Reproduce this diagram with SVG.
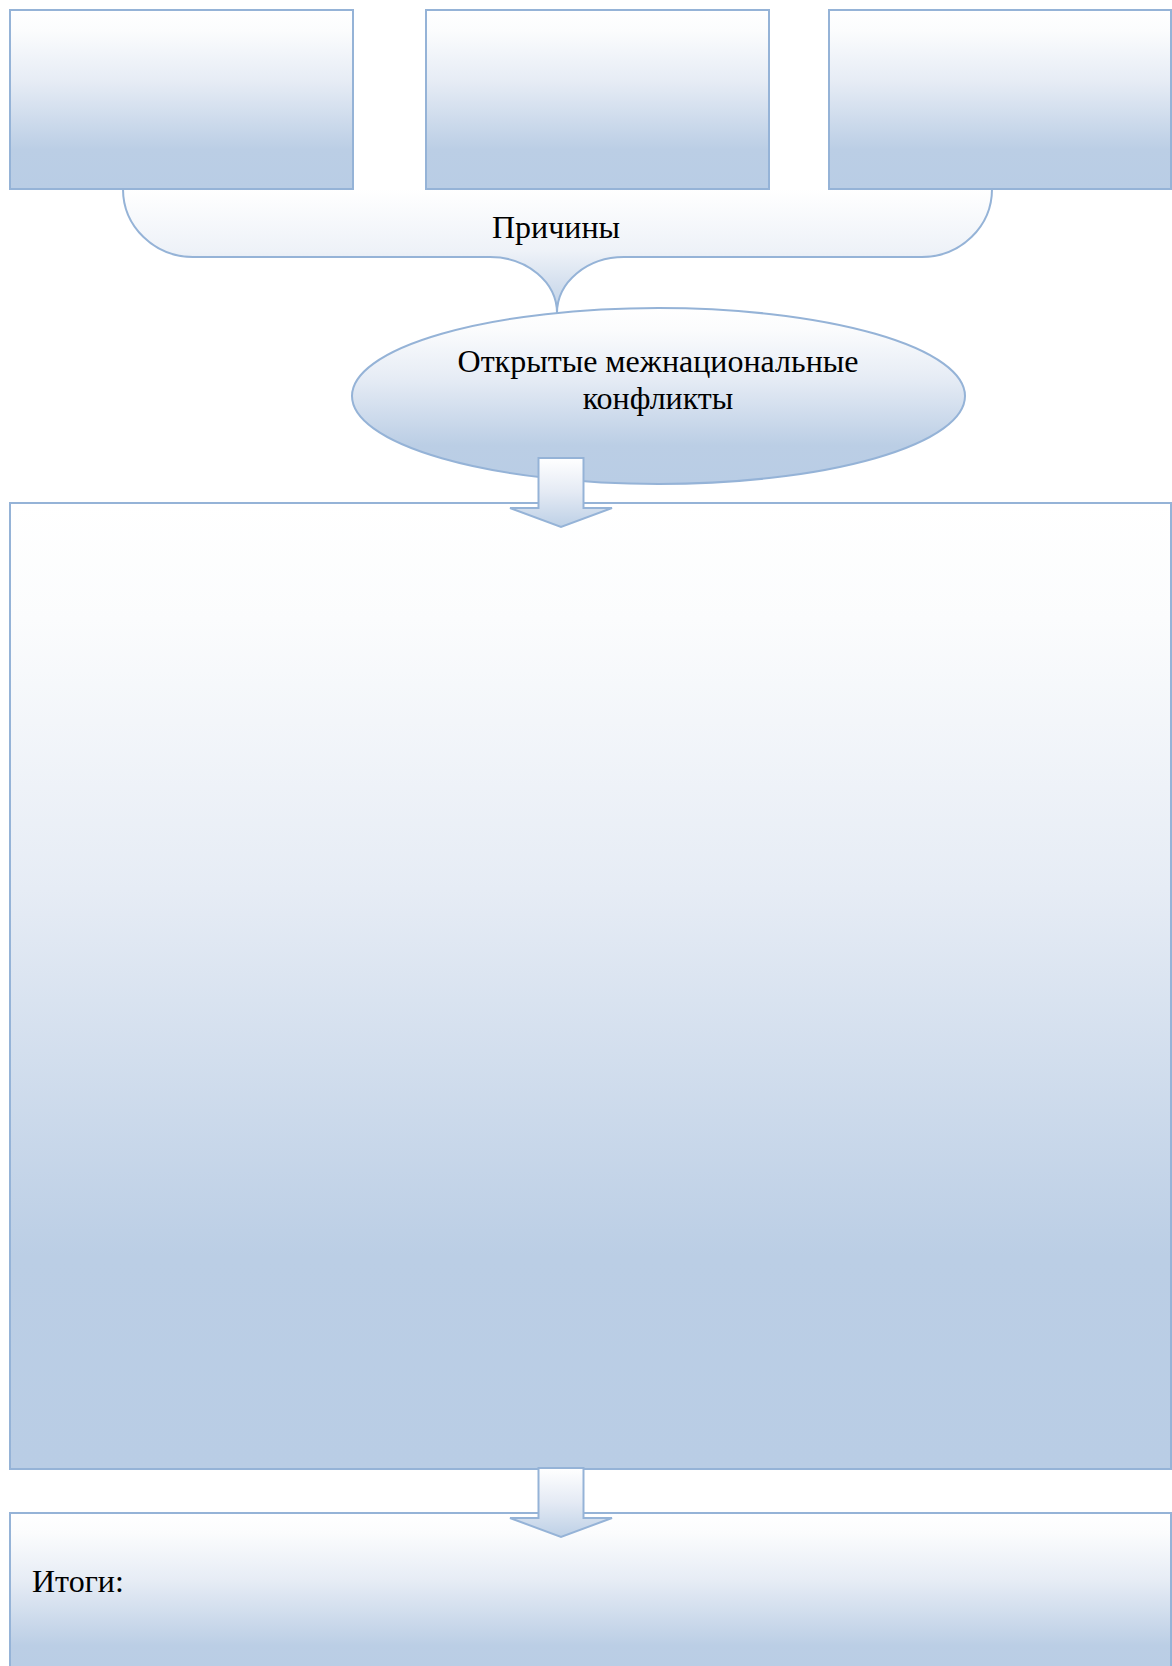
<svg xmlns="http://www.w3.org/2000/svg" width="1172" height="1666" viewBox="0 0 1172 1666">
  <defs>
    <linearGradient id="g" x1="0" y1="0" x2="0" y2="1">
      <stop offset="0" stop-color="#FFFFFF"/>
      <stop offset="0.12" stop-color="#FBFCFD"/>
      <stop offset="0.4" stop-color="#E6ECF5"/>
      <stop offset="0.78" stop-color="#BBCEE5"/>
      <stop offset="1" stop-color="#B9CDE5"/>
    </linearGradient>
    <linearGradient id="ga" x1="0" y1="0" x2="0" y2="1">
      <stop offset="0" stop-color="#FFFFFF"/>
      <stop offset="0.5" stop-color="#E4EAF4"/>
      <stop offset="1" stop-color="#BDD0E6"/>
    </linearGradient>
    <linearGradient id="gb" x1="0" y1="0" x2="0" y2="1">
      <stop offset="0" stop-color="#FFFFFF"/>
      <stop offset="0.5" stop-color="#EEF2F8"/>
      <stop offset="1" stop-color="#BED0E6"/>
    </linearGradient>
  </defs>
  <style>
    .shape { fill: url(#g); stroke: #95B3D7; stroke-width: 2; }
    .arrow { fill: url(#ga); stroke: #95B3D7; stroke-width: 2; stroke-linejoin: miter; }
    text { font-family: "Liberation Serif", "DejaVu Serif", serif; font-size: 32px; fill: #000000; }
  </style>

  <g id="brace">
    <path d="M123,189 A70,68 0 0 0 193,257 L490,257 A67,56 0 0 1 557,313 A67,56 0 0 1 624,257 L922,257 A70,68 0 0 0 992,189 Z" fill="url(#gb)" stroke="none"/>
    <path d="M123,189 A70,68 0 0 0 193,257 L490,257 A67,56 0 0 1 557,313 A67,56 0 0 1 624,257 L922,257 A70,68 0 0 0 992,189" fill="none" stroke="#95B3D7" stroke-width="2"/>
    <text x="556" y="238" text-anchor="middle">Причины</text>
  </g>

  <g id="box1"><rect class="shape" x="10" y="10" width="343" height="179"/></g>
  <g id="box2"><rect class="shape" x="426" y="10" width="343" height="179"/></g>
  <g id="box3"><rect class="shape" x="829" y="10" width="342" height="179"/></g>

  <g id="conflicts">
    <ellipse class="shape" cx="658.5" cy="396" rx="306.5" ry="88"/>
    <text x="658" y="372" text-anchor="middle">Открытые межнациональные</text>
    <text x="658" y="409" text-anchor="middle">конфликты</text>
  </g>

  <g id="main"><rect class="shape" x="10" y="503" width="1161" height="966"/></g>

  <g id="results">
    <rect class="shape" x="10" y="1513" width="1161" height="170"/>
    <text x="32" y="1592">Итоги:</text>
  </g>

  <g id="connectors">
    <path class="arrow" d="M538.5,458 L583.5,458 L583.5,508 L612,508 L561,527 L510,508 L538.5,508 Z"/>
    <path class="arrow" d="M538.5,1468 L583.5,1468 L583.5,1518 L612,1518 L561,1537 L510,1518 L538.5,1518 Z"/>
  </g>
</svg>
